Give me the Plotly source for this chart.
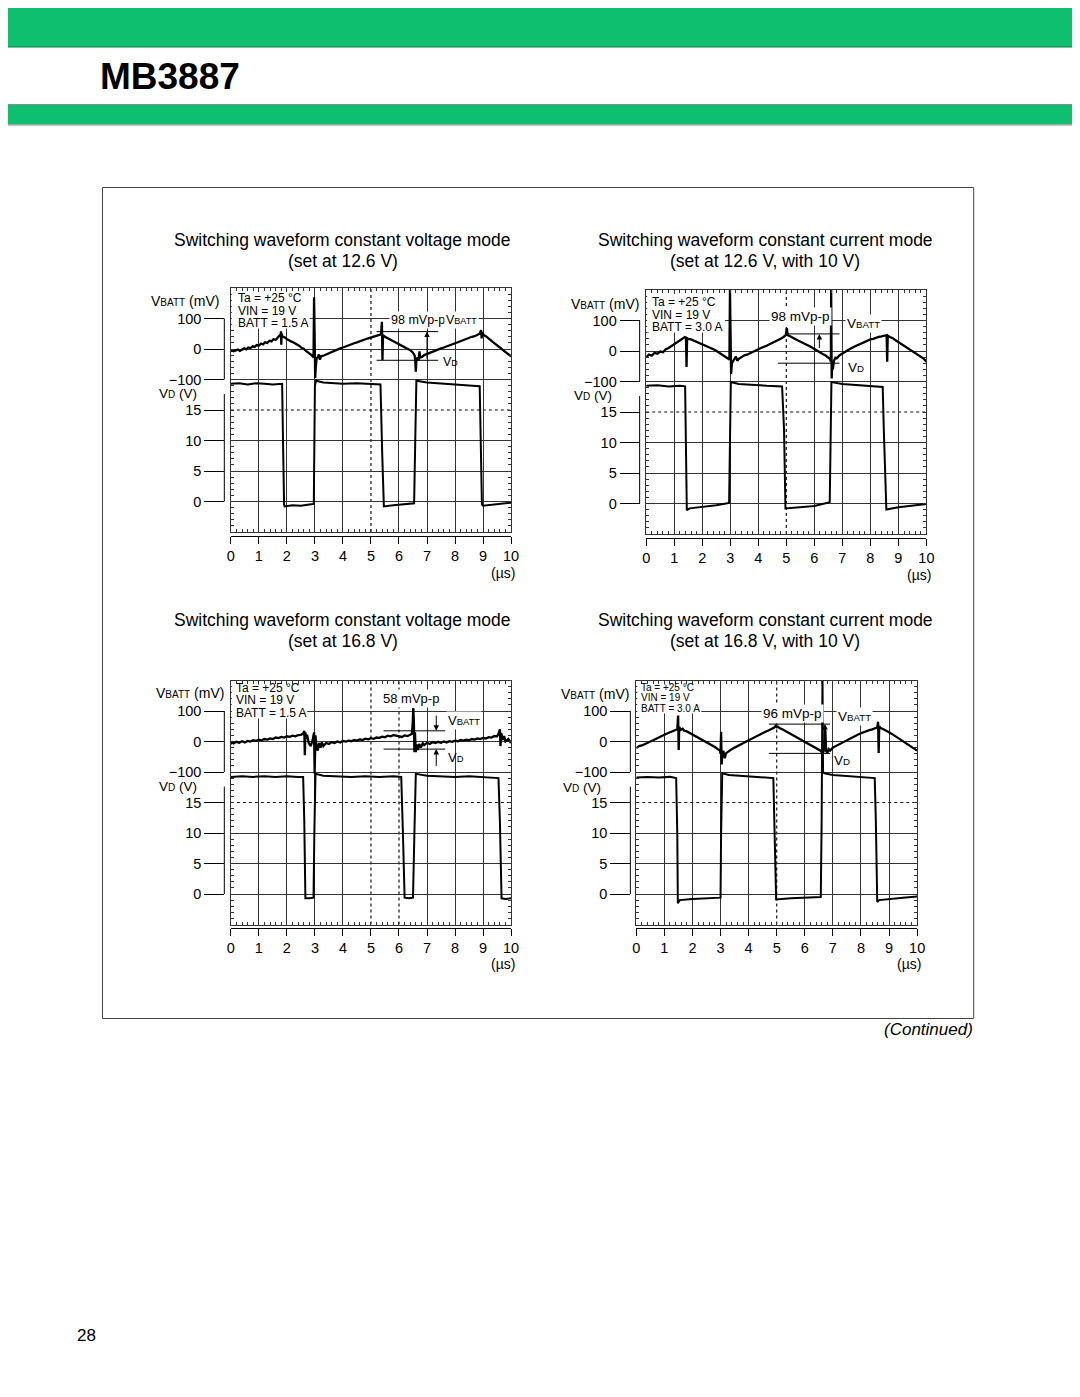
import plotly.graph_objects as go

# ------------------------------------------------------------------ data
x_tick_vals = [0, 1, 2, 3, 4, 5, 6, 7, 8, 9, 10]
x_tick_text = ["0", "1", "2", "3", "4", "5", "6", "7", "8", "9", "10"]
vbatt_tick_vals = [-100, 0, 100]
vbatt_tick_text = ["\u2212100", "0", "100"]
vd_tick_vals = [0, 5, 10, 15]
vd_tick_text = ["0", "5", "10", "15"]

panel_titles = [
    ("Switching waveform constant voltage mode", "(set at 12.6 V)"),
    ("Switching waveform constant current mode", "(set at 12.6 V, with 10 V)"),
    ("Switching waveform constant voltage mode", "(set at 16.8 V)"),
    ("Switching waveform constant current mode", "(set at 16.8 V, with 10 V)"),
]
panel_conditions = [
    ["Ta = +25 \u00b0C", "VIN = 19 V", "BATT = 1.5 A"],
    ["Ta = +25 \u00b0C", "VIN = 19 V", "BATT = 3.0 A"],
    ["Ta = +25 \u00b0C", "VIN = 19 V", "BATT = 1.5 A"],
    ["Ta = +25 \u00b0C", "VIN = 19 V", "BATT = 3.0 A"],
]
ripple_labels = ["98 mVp-p", "98 mVp-p", "58 mVp-p", "96 mVp-p"]
ripple_upper_mv = [57, 56, 35, 57]
ripple_lower_mv = [-37, -40, -25, -39]

# Panel 1 : constant voltage 12.6 V
p1_vbatt_t = [0.00, 0.05, 0.10, 0.18, 0.25, 0.32, 0.40, 0.48, 0.55, 0.62, 0.70, 0.78, 0.85, 0.92, 1.00,
              1.08, 1.15, 1.22, 1.30, 1.38, 1.45, 1.52, 1.60, 1.68, 1.74, 1.78, 1.79, 1.80, 1.81, 1.85,
              1.92, 2.00, 2.08, 2.15, 2.22, 2.30, 2.38, 2.45, 2.52, 2.60, 2.68, 2.75, 2.82, 2.88, 2.93,
              2.95, 2.97, 2.99, 3.01, 3.03, 3.06, 3.10, 3.14, 3.18, 3.22, 3.30, 3.40, 3.50, 3.60, 3.70,
              3.80, 3.90, 4.00, 4.10, 4.20, 4.30, 4.40, 4.50, 4.60, 4.70, 4.80, 4.90, 5.00, 5.10, 5.20,
              5.30, 5.36, 5.39, 5.41, 5.43, 5.50, 5.60, 5.70, 5.80, 5.90, 6.00, 6.10, 6.20, 6.30, 6.40,
              6.50, 6.56, 6.58, 6.60, 6.62, 6.66, 6.70, 6.73, 6.76, 6.82, 6.90, 7.00, 7.10, 7.20, 7.30,
              7.40, 7.50, 7.60, 7.70, 7.80, 7.90, 8.00, 8.10, 8.20, 8.30, 8.40, 8.50, 8.60, 8.70, 8.80,
              8.88, 8.93, 8.95, 8.97, 9.02, 9.10, 9.20, 9.30, 9.40, 9.50, 9.60, 9.70, 9.80, 9.90, 10.00]
p1_vbatt_mv = [-8, -4, -7, -5, -2, -6, -1, 2, -1, 5, 3, 9, 7, 13, 11,
               18, 15, 22, 20, 27, 25, 32, 30, 38, 42, 48, 58, 14, 50, 40,
               38, 33, 30, 25, 22, 18, 13, 10, 4, 1, -6, -10, -14, -20, -25,
               -28, 170, -30, -95, -60, -30, -28, -18, -35, -24, -22, -18, -12, -10, -5,
               -2, 2, 5, 9, 12, 15, 19, 22, 26, 28, 32, 35, 38, 40, 44,
               47, 48, 89, -36, 46, 40, 35, 30, 26, 22, 17, 12, 6, 2, -4,
               -12, -22, -40, -74, -36, -28, -38, -8, -28, -26, -20, -16, -12, -9, -4,
               -1, 2, 5, 9, 12, 16, 19, 22, 26, 29, 32, 36, 40, 42, 46,
               50, 62, 35, 55, 46, 42, 33, 27, 19, 13, 5, -3, -10, -18, -24]
p1_vd_t = [0.00, 0.30, 0.60, 0.90, 1.20, 1.50, 1.83, 1.85, 1.87, 1.90, 1.92, 2.20, 2.50, 2.80, 2.96,
           3.00, 3.04, 3.30, 3.60, 4.00, 4.50, 5.00, 5.34, 5.40, 5.46, 5.80, 6.20, 6.54, 6.58, 6.62,
           7.00, 7.50, 8.00, 8.50, 8.88, 8.92, 8.96, 9.00, 9.50, 10.00]
p1_vd_v = [19.3, 19.4, 19.2, 19.4, 19.3, 19.2, 19.3, 8.0, 7.6, -0.5, -0.8, -0.6, -0.7, -0.5, -0.4,
           19.0, 19.8, 19.5, 19.4, 19.3, 19.4, 19.3, 19.2, 8.0, -0.8, -0.6, -0.5, -0.3, 10.0, 19.8,
           19.5, 19.3, 19.1, 19.0, 18.9, 10.0, -0.5, -0.7, -0.5, -0.2]

# Panel 2 : constant current 12.6 V
p2_vbatt_t = [0.00, 0.10, 0.20, 0.30, 0.40, 0.50, 0.60, 0.70, 0.80, 0.90, 1.00, 1.10, 1.20, 1.30, 1.38,
              1.42, 1.44, 1.46, 1.50, 1.60, 1.70, 1.80, 1.90, 2.00, 2.10, 2.20, 2.30, 2.40, 2.50, 2.60,
              2.70, 2.80, 2.90, 2.97, 2.99, 3.01, 3.03, 3.06, 3.10, 3.15, 3.20, 3.25, 3.30, 3.40, 3.50,
              3.60, 3.70, 3.80, 3.90, 4.00, 4.10, 4.20, 4.30, 4.40, 4.50, 4.60, 4.70, 4.80, 4.90, 4.98,
              5.02, 5.05, 5.10, 5.20, 5.30, 5.40, 5.50, 5.60, 5.70, 5.80, 5.90, 6.00, 6.10, 6.20, 6.30,
              6.40, 6.50, 6.56, 6.59, 6.60, 6.62, 6.64, 6.66, 6.70, 6.75, 6.80, 6.90, 7.00, 7.10, 7.20,
              7.30, 7.40, 7.50, 7.60, 7.70, 7.80, 7.90, 8.00, 8.10, 8.20, 8.30, 8.40, 8.50, 8.58, 8.60,
              8.62, 8.70, 8.80, 8.90, 9.00, 9.10, 9.20, 9.30, 9.40, 9.50, 9.60, 9.70, 9.80, 9.90, 10.00]
p2_vbatt_mv = [-20, -12, -15, -6, -9, -2, -4, 6, 10, 16, 22, 27, 33, 40, 46,
               44, -52, 42, 40, 38, 34, 31, 28, 24, 20, 16, 10, 6, 1, -5,
               -10, -15, -21, -28, 200, -30, -75, -40, -34, -25, -18, -32, -26, -20, -14,
               -12, -7, -2, 1, 6, 10, 13, 17, 22, 26, 31, 36, 40, 46, 52,
               75, 52, 50, 44, 40, 35, 31, 27, 21, 17, 12, 6, 1, -4, -10,
               -15, -21, -26, -35, 200, -90, -40, -60, -32, -22, -24, -14, -8, -3, 3,
               8, 13, 17, 22, 26, 31, 35, 38, 40, 44, 46, 48, 50, 52, -35,
               50, 46, 42, 35, 29, 24, 18, 12, 6, 1, -6, -12, -18, -25, -35]
p2_vd_t = [0.00, 0.40, 0.80, 1.20, 1.39, 1.43, 1.45, 1.55, 2.00, 2.50, 2.96, 2.99, 3.02, 3.30, 3.80,
           4.30, 4.85, 4.92, 4.97, 5.50, 6.00, 6.55, 6.58, 6.61, 7.00, 7.50, 8.00, 8.44, 8.48, 8.52,
           8.57, 9.00, 9.50, 10.00]
p2_vd_v = [19.3, 19.4, 19.2, 19.3, 19.2, 5.0, -1.1, -0.8, -0.6, -0.3, 0.1, 12.0, 19.9, 19.6, 19.4,
           19.3, 19.2, 12.0, -0.8, -0.6, -0.4, 0.2, 12.0, 19.9, 19.6, 19.4, 19.3, 19.1, 12.0, 4.9,
           -1.0, -0.6, -0.3, -0.1]

# Panel 3 : constant voltage 16.8 V
p3_vbatt_t = [0.00, 0.05, 0.10, 0.20, 0.30, 0.40, 0.50, 0.60, 0.70, 0.80, 0.90, 1.00, 1.10, 1.20, 1.30,
              1.40, 1.50, 1.60, 1.70, 1.80, 1.90, 2.00, 2.10, 2.20, 2.30, 2.40, 2.50, 2.58, 2.62, 2.64,
              2.66, 2.68, 2.72, 2.78, 2.85, 2.92, 2.97, 2.99, 3.02, 3.05, 3.10, 3.15, 3.20, 3.25, 3.30,
              3.40, 3.50, 3.60, 3.70, 3.80, 3.90, 4.00, 4.10, 4.20, 4.30, 4.40, 4.50, 4.60, 4.70, 4.80,
              4.90, 5.00, 5.10, 5.20, 5.30, 5.40, 5.50, 5.60, 5.70, 5.80, 5.90, 6.00, 6.10, 6.20, 6.30,
              6.40, 6.46, 6.49, 6.51, 6.53, 6.55, 6.57, 6.60, 6.63, 6.67, 6.72, 6.78, 6.85, 6.90, 7.00,
              7.10, 7.20, 7.30, 7.40, 7.50, 7.60, 7.70, 7.80, 7.90, 8.00, 8.10, 8.20, 8.30, 8.40, 8.50,
              8.60, 8.70, 8.80, 8.90, 9.00, 9.10, 9.20, 9.30, 9.40, 9.50, 9.55, 9.60, 9.62, 9.65, 9.70,
              9.75, 9.80, 9.90, 10.00]
p3_vbatt_mv = [-8, -2, -6, -1, -4, 1, -3, 2, 0, 4, 2, 6, 4, 8, 6,
               10, 8, 13, 11, 15, 13, 17, 15, 19, 17, 21, 22, 26, 35, -45,
               30, 10, 22, -5, -15, 5, 30, -105, 20, -10, -30, -5, -20, -3, -15,
               -5, -8, -2, -5, 0, -3, 2, 0, 3, 1, 5, 3, 7, 5, 9,
               7, 11, 9, 13, 12, 16, 14, 19, 17, 21, 19, 17, 15, 20, 18,
               22, 25, 60, 110, 70, -35, 30, -35, -10, -28, -8, -20, -6, -12, -4,
               -8, -2, -5, -1, -4, 0, -3, 1, -1, 3, 1, 5, 3, 6, 4,
               8, 6, 10, 8, 12, 10, 14, 13, 18, 17, 25, 40, -15, 28, 5,
               18, 0, 8, -5]
p3_vd_t = [0.00, 0.40, 0.80, 1.20, 1.60, 2.00, 2.40, 2.58, 2.62, 2.66, 2.80, 2.95, 2.98, 3.02, 3.30,
           3.80, 4.30, 4.80, 5.30, 5.80, 6.08, 6.14, 6.20, 6.35, 6.50, 6.55, 6.60, 7.00, 7.50, 8.00,
           8.50, 9.00, 9.55, 9.60, 9.66, 9.80, 10.00]
p3_vd_v = [19.2, 19.3, 19.2, 19.3, 19.2, 19.3, 19.2, 19.2, 12.0, -0.7, -0.7, -0.6, 10.0, 19.7, 19.4,
           19.3, 19.2, 19.3, 19.2, 19.3, 19.2, 10.0, -0.6, -0.7, -0.6, 10.0, 19.7, 19.4, 19.3, 19.2,
           19.3, 19.2, 19.0, 12.0, -0.7, -0.8, -0.7]

# Panel 4 : constant current 16.8 V
p4_vbatt_t = [0.00, 0.10, 0.20, 0.30, 0.40, 0.50, 0.60, 0.70, 0.80, 0.90, 1.00, 1.10, 1.20, 1.30, 1.40,
              1.46, 1.49, 1.51, 1.53, 1.58, 1.65, 1.70, 1.80, 1.90, 2.00, 2.10, 2.20, 2.30, 2.40, 2.50,
              2.60, 2.70, 2.80, 2.90, 2.98, 3.00, 3.02, 3.04, 3.06, 3.10, 3.15, 3.20, 3.30, 3.40, 3.50,
              3.60, 3.70, 3.80, 3.90, 4.00, 4.10, 4.20, 4.30, 4.40, 4.50, 4.60, 4.70, 4.80, 4.90, 4.97,
              5.00, 5.05, 5.10, 5.20, 5.30, 5.40, 5.50, 5.60, 5.70, 5.80, 5.90, 6.00, 6.10, 6.20, 6.30,
              6.40, 6.50, 6.56, 6.60, 6.64, 6.70, 6.73, 6.76, 6.80, 6.85, 6.90, 7.00, 7.10, 7.20, 7.30,
              7.40, 7.50, 7.60, 7.70, 7.80, 7.90, 8.00, 8.10, 8.20, 8.30, 8.40, 8.50, 8.58, 8.61, 8.63,
              8.65, 8.70, 8.80, 8.90, 9.00, 9.10, 9.20, 9.30, 9.40, 9.50, 9.60, 9.70, 9.80, 9.90, 10.00]
p4_vbatt_mv = [-22, -15, -13, -8, -4, 0, 4, 9, 13, 18, 22, 26, 30, 33, 36,
               40, 85, -28, 48, 38, 42, 36, 33, 28, 24, 19, 13, 8, 4, -2,
               -7, -13, -18, -25, -30, -40, 32, -75, -45, -30, -55, -38, -30, -25, -20,
               -16, -11, -6, -1, 4, 9, 14, 19, 23, 27, 32, 36, 41, 45, 52,
               47, 48, 44, 40, 35, 30, 25, 20, 15, 10, 5, 0, -5, -10, -15,
               -20, -26, -30, -35, -40, -20, 40, -30, -38, -25, -30, -20, -15, -10, -5,
               0, 5, 10, 14, 19, 23, 27, 31, 34, 37, 40, 44, 46, 65, -38,
               50, 44, 40, 36, 30, 25, 19, 13, 8, 2, -4, -10, -16, -22, -30]
p4_vd_t = [0.00, 0.40, 0.80, 1.20, 1.42, 1.46, 1.48, 1.55, 2.00, 2.50, 3.00, 3.02, 3.06, 3.30, 3.80,
           4.30, 4.88, 4.93, 4.98, 5.50, 6.00, 6.57, 6.60, 6.63, 6.65, 6.70, 7.00, 7.50, 8.00, 8.49,
           8.53, 8.58, 8.65, 9.00, 9.50, 10.00]
p4_vd_v = [19.1, 19.2, 19.1, 19.2, 19.0, 10.0, -1.5, -1.0, -0.8, -0.7, -0.6, 10.0, 19.8, 19.5, 19.4,
           19.2, 19.0, 10.0, -0.9, -0.7, -0.6, -0.5, 12.0, 36.0, 20.0, 19.8, 19.5, 19.3, 19.2, 19.0,
           12.0, -1.3, -1.0, -0.8, -0.6, -0.4]

vbatt_series = [(p1_vbatt_t, p1_vbatt_mv), (p2_vbatt_t, p2_vbatt_mv),
                (p3_vbatt_t, p3_vbatt_mv), (p4_vbatt_t, p4_vbatt_mv)]
vd_series = [(p1_vd_t, p1_vd_v), (p2_vd_t, p2_vd_v), (p3_vd_t, p3_vd_v), (p4_vd_t, p4_vd_v)]

# ------------------------------------------------------------------ layout helpers
# The page body keeps its default 8 px margin, so the figure starts 8 px in from
# the top-left corner; every position below is given in page pixels.
OFF = 8
W, H = 1080, 1397
FONT = "Liberation Sans, Arial, Helvetica, sans-serif"
GRID = "#333333"
GREEN = "#0DBF6F"


def fx(px):
    return (px - OFF) / W


def fy(py):
    return 1 - (py - OFF) / H


def xk(n):
    return "xaxis" if n == 1 else f"xaxis{n}"


def yk(n):
    return "yaxis" if n == 1 else f"yaxis{n}"


def xr(n):
    return "x" if n == 1 else f"x{n}"


def yr(n):
    return "y" if n == 1 else f"y{n}"


def small(txt, size):
    return f"<span style='font-size:{size}px'>{txt}</span>"


PANELS = [
    dict(gx=(229.3, 512.7), gy=(288.0, 532.0), ylx=222.7, xly=536.0, xgrid=[1, 2, 3, 4, 6, 7, 8, 9],
         dotted_x=[5], title_cx=342.5, title_y=(240, 261),
         vb_title=(218, 301.5), vd_title=(196, 393.5), us_title=(518, 573),
         cond_left=236, cond_y=(298, 310.5, 323), cond_size=12, cond_w=73,
         rip=dict(t0=5.2, t1=7.4, t0l=5.2, arrow_t=7.0, arrow_from=-37, mode="up"),
         rip_lbl=(389, 320, 12.5), vbl=(445, 320), vdl=(443, 362)),
    dict(gx=(649.3, 932.7), gy=(290.0, 534.0), ylx=642.7, xly=537.5, xgrid=[1, 2, 3, 4, 6, 7, 8, 9],
         dotted_x=[5], title_cx=769.5, title_y=(240, 261),
         vb_title=(643.5, 303.5), vd_title=(615.5, 395.5), us_title=(938, 575),
         cond_left=654, cond_y=(302, 314.5, 327), cond_size=12, cond_w=75,
         rip=dict(t0=4.95, t1=6.9, t0l=4.7, arrow_t=6.18, arrow_from=5, mode="up"),
         rip_lbl=(773, 316.5, 13.5), vbl=(850, 323), vdl=(852, 367)),
    dict(gx=(229.3, 512.7), gy=(680.5, 924.5), ylx=222.7, xly=927.5, xgrid=[1, 2, 3, 4, 7, 8, 9],
         dotted_x=[5, 6], title_cx=342.5, title_y=(620, 641),
         vb_title=(223, 693), vd_title=(196, 786), us_title=(518, 963.5),
         cond_left=233.5, cond_y=(688, 700.5, 713), cond_size=12, cond_w=73,
         rip=dict(t0=5.45, t1=7.65, t0l=5.45, arrow_t=7.33, arrow_from=0, mode="both"),
         rip_lbl=(381, 698.5, 13), vbl=(446.5, 720), vdl=(447.5, 757)),
    dict(gx=(639.3, 923.3), gy=(680.5, 924.5), ylx=633.3, xly=927.5, xgrid=[1, 2, 3, 4, 6, 7, 8, 9],
         dotted_x=[5], title_cx=769.5, title_y=(620, 641),
         vb_title=(633, 693.5), vd_title=(605, 787), us_title=(928, 964),
         cond_left=643, cond_y=(687, 697.5, 708), cond_size=10, cond_w=62,
         rip=dict(t0=4.72, t1=6.9, t0l=4.72, arrow_t=6.72, arrow_from=-39, mode="up"),
         rip_lbl=(765, 713, 13.5), vbl=(841.5, 716.5), vdl=(838, 760)),
]

fig = go.Figure()
layout = {}
shapes = []
annotations = []


def ann(text, xp, yp, size, xanchor="left", yanchor="middle", bg=None, color="black", family=FONT, pad=0):
    d = dict(text=text, x=fx(xp), y=fy(yp), xref="paper", yref="paper", xanchor=xanchor, yanchor=yanchor,
             showarrow=False, font=dict(size=size, color=color, family=family), borderpad=pad)
    if bg:
        d["bgcolor"] = bg
    annotations.append(d)


for i, P in enumerate(PANELS):
    xg, xl = 2 * i + 1, 2 * i + 2
    yg, yb, yd = 3 * i + 1, 3 * i + 2, 3 * i + 3
    dom_x = [fx(P["gx"][0]), fx(P["gx"][1])]
    dom_y = [fy(P["gy"][1]), fy(P["gy"][0])]
    grid_common = dict(showticklabels=False, ticks="inside", ticklen=3, tickcolor=GRID, tickwidth=1,
                       showgrid=True, gridcolor=GRID, gridwidth=1, showline=True, linecolor=GRID,
                       linewidth=1, mirror="allticks", zeroline=False, fixedrange=True,
                       minor=dict(dtick=0.2, tick0=0, ticks="inside", ticklen=3, tickcolor=GRID,
                                  tickwidth=1, showgrid=False))
    layout[xk(xg)] = dict(domain=dom_x, anchor=yr(yg), range=[0, 10], tickmode="array",
                          tickvals=P["xgrid"], **grid_common)
    layout[yk(yg)] = dict(domain=dom_y, anchor=xr(xg), range=[0, 8], tickmode="array",
                          tickvals=[1, 2, 3, 5, 6, 7], **grid_common)
    tickfont = dict(size=14.5, color="black", family=FONT)
    layout[xk(xl)] = dict(overlaying=xr(xg), anchor="free", position=fy(P["xly"]), side="bottom",
                          range=[0, 10], tickmode="array", tickvals=x_tick_vals, ticktext=x_tick_text,
                          ticks="outside", ticklen=7, tickcolor="black", tickwidth=1, showline=True,
                          linecolor="black", linewidth=1, showgrid=False, zeroline=False,
                          tickfont=tickfont, fixedrange=True)
    ycommon = dict(anchor="free", position=fx(P["ylx"]), side="left", ticks="outside", ticklen=20,
                   tickcolor="black", tickwidth=1, showline=False, showgrid=False, zeroline=False,
                   tickfont=tickfont, fixedrange=True, tickmode="array")
    layout[yk(yb)] = dict(overlaying=yr(yg), range=[-600, 200], tickvals=vbatt_tick_vals,
                          ticktext=vbatt_tick_text, **ycommon)
    layout[yk(yd)] = dict(overlaying=yr(yg), range=[-5, 35], tickvals=vd_tick_vals,
                          ticktext=vd_tick_text, **ycommon)

    vt, vv = vbatt_series[i]
    dt, dv = vd_series[i]
    fig.add_trace(go.Scatter(x=vt, y=vv, xaxis=xr(xg), yaxis=yr(yb), mode="lines",
                             line=dict(color="black", width=2.3), showlegend=False, hoverinfo="skip"))
    fig.add_trace(go.Scatter(x=dt, y=dv, xaxis=xr(xl), yaxis=yr(yd), mode="lines",
                             line=dict(color="black", width=2.0), showlegend=False, hoverinfo="skip"))

    # dotted centre lines of the graticule
    for dx in P["dotted_x"]:
        shapes.append(dict(type="line", xref=xr(xg), yref=yr(yg), x0=dx, x1=dx, y0=0, y1=8,
                           line=dict(color="#111111", width=1.2, dash="dot"), layer="below"))
    shapes.append(dict(type="line", xref=xr(xg), yref=yr(yg), x0=0, x1=10, y0=4, y1=4,
                       line=dict(color="#111111", width=1.2, dash="dot"), layer="below"))

    # white area behind the measurement conditions block
    shapes.append(dict(type="rect", xref="paper", yref="paper",
                       x0=fx(P["gx"][0] + 1), x1=fx(P["cond_left"] + P["cond_w"]),
                       y0=fy(P["cond_y"][2] + 5.5), y1=fy(P["gy"][0] + 4),
                       fillcolor="white", line=dict(width=0), layer="above"))

    # bracket lines of the two vertical scales
    shapes.append(dict(type="line", xref="paper", yref=yr(yb), x0=fx(P["ylx"]), x1=fx(P["ylx"]),
                       y0=vbatt_tick_vals[0], y1=vbatt_tick_vals[-1], line=dict(color="black", width=1)))
    shapes.append(dict(type="line", xref="paper", yref=yr(yd), x0=fx(P["ylx"]), x1=fx(P["ylx"]),
                       y0=vd_tick_vals[0], y1=17.6, line=dict(color="black", width=1)))

    # ripple marker lines and arrows
    R = P["rip"]
    up, lo = ripple_upper_mv[i], ripple_lower_mv[i]
    shapes.append(dict(type="line", xref=xr(xg), yref=yr(yb), x0=R["t0"], x1=R["t1"], y0=up, y1=up,
                       line=dict(color="black", width=1)))
    shapes.append(dict(type="line", xref=xr(xg), yref=yr(yb), x0=R["t0l"], x1=R["t1"], y0=lo, y1=lo,
                       line=dict(color="black", width=1)))
    arrow_common = dict(xref=xr(xg), yref=yr(yb), axref=xr(xg), ayref=yr(yb), text="", showarrow=True,
                        arrowhead=2, arrowsize=1.1, arrowwidth=1, arrowcolor="black")
    if R["mode"] == "up":
        annotations.append(dict(x=R["arrow_t"], y=up, ax=R["arrow_t"], ay=R["arrow_from"], **arrow_common))
    else:
        annotations.append(dict(x=R["arrow_t"], y=up, ax=R["arrow_t"], ay=up + 55, **arrow_common))
        annotations.append(dict(x=R["arrow_t"], y=lo, ax=R["arrow_t"], ay=lo - 60, **arrow_common))

    # texts
    t1, t2 = panel_titles[i]
    ann(t1, P["title_cx"], P["title_y"][0], 17.5, xanchor="center")
    ann(t2, P["title_cx"], P["title_y"][1], 17.5, xanchor="center")
    ann("V" + small("BATT", 10) + " (mV)", P["vb_title"][0], P["vb_title"][1], 14, xanchor="right")
    ann("V" + small("D", 10) + " (V)", P["vd_title"][0], P["vd_title"][1], 13.5, xanchor="right")
    ann("(\u00b5s)", P["us_title"][0], P["us_title"][1], 14, xanchor="right")
    for line, yy in zip(panel_conditions[i], P["cond_y"]):
        ann(line, P["cond_left"], yy, P["cond_size"])
    rx, ry, rs = P["rip_lbl"]
    ann(ripple_labels[i], rx, ry, rs, bg="white", pad=1)
    ann("V" + small("BATT", round(rs * 0.72, 1)), P["vbl"][0], P["vbl"][1], rs, bg="white", pad=1)
    ann("V" + small("D", round(rs * 0.72, 1)), P["vdl"][0], P["vdl"][1], rs)

# ------------------------------------------------------------------ page decoration
def prect(x0, y0, x1, y1, fill):
    shapes.append(dict(type="rect", xref="paper", yref="paper", x0=fx(x0), x1=fx(x1), y0=fy(y1), y1=fy(y0),
                       fillcolor=fill, line=dict(width=0), layer="below"))


def pline(x0, y0, x1, y1, color, w=1):
    shapes.append(dict(type="line", xref="paper", yref="paper", x0=fx(x0), x1=fx(x1), y0=fy(y0), y1=fy(y1),
                       line=dict(color=color, width=w)))


prect(0, 0, 1088, 47, GREEN)
pline(0, 47, 1088, 47, "#0B7F49", 1)
prect(0, 104.5, 1088, 124.5, GREEN)
pline(0, 104.5, 1088, 104.5, "#8a8a8a", 1)
pline(0, 125, 1088, 125, "#8a8a8a", 1)
shapes.append(dict(type="rect", xref="paper", yref="paper", x0=fx(99.5), x1=fx(980.5), y0=fy(1018.5),
                   y1=fy(187.5), line=dict(color="#444444", width=1), fillcolor="rgba(0,0,0,0)"))

ann("<b>MB3887</b>", 96, 77, 37)
ann("<i>(Continued)</i>", 981, 1029, 17, xanchor="right")
ann("28", 83.5, 1335, 17, xanchor="center")

fig.update_layout(
    width=W, height=H, margin=dict(l=0, r=0, t=0, b=0),
    paper_bgcolor="white", plot_bgcolor="white",
    font=dict(family=FONT, color="black"),
    showlegend=False, shapes=shapes, annotations=annotations,
    **layout,
)

fig.write_html("out.html")
